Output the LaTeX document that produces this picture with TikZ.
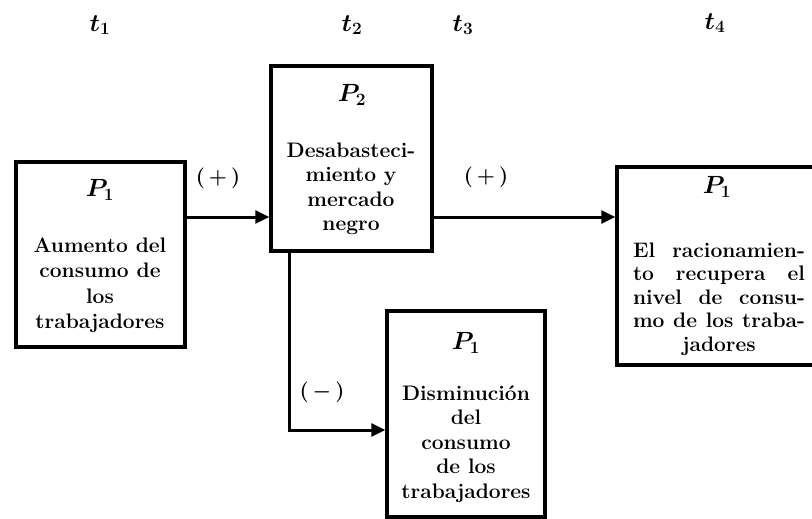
\documentclass[tikz,border=0pt]{standalone}
\usetikzlibrary{arrows.meta}
\begin{document}
\begin{tikzpicture}[x=1pt,y=-1pt,
  box/.style={draw,line width=3.4pt,minimum width=#1,inner sep=0pt},
  txt/.style={align=center,font=\fontsize{21}{24.5}\selectfont\bfseries,inner sep=0pt},
  plab/.style={font=\fontsize{23}{26}\selectfont\boldmath,inner sep=0pt},
  sgn/.style={font=\fontsize{22}{26}\selectfont\boldmath,inner sep=0pt},
  arr/.style={line width=3pt,-{Triangle[length=14pt,width=13pt]}}]
\useasboundingbox (0,0) rectangle (812,519);
% boxes
\node[box=169pt,minimum height=185pt] (b1) at (100.5,254.5) {};
\node[box=161pt,minimum height=185pt] (b2) at (351.5,158.5) {};
\node[box=158pt,minimum height=206pt] (b3) at (466,414) {};
\node[box=206pt,minimum height=198pt] (b4) at (720,266) {};
% time labels
\node[plab] (t1) at (100,25) {$t_1$};
\node[plab] (t2) at (352,25) {$t_2$};
\node[plab] (t3) at (463,25) {$t_3$};
\node[plab] (t4) at (715,23) {$t_4$};
% P labels
\node[plab] (p1) at (100,190) {$P_1$};
\node[plab] (p2) at (352,95) {$P_2$};
\node[plab] (p3) at (466,343) {$P_1$};
\node[plab] (p4) at (717,187) {$P_1$};
% texts
\node[txt,font=\fontsize{21}{25.5}\selectfont\bfseries] (x1) at (100,285) {Aumento del\\consumo de\\los\\trabajadores};
\node[txt] (x2) at (351,189) {Desabasteci-\\miento y\\mercado\\negro};
\node[txt] (x3) at (466,444) {Disminución\\del\\consumo\\de los\\trabajadores};
\node[txt,font=\fontsize{21}{23.5}\selectfont\bfseries] (x4) at (719,299) {\makebox[172pt][s]{El racionamien-}\\\makebox[172pt][s]{to recupera el}\\\makebox[172pt][s]{nivel de consu-}\\\makebox[172pt][s]{mo de los traba-}\\jadores};
% connectors
\draw[arr] (b1.east |- 0,217) -- (b2.west |- 0,217);
\draw[arr] (b2.east |- 0,217) -- (b4.west |- 0,217);
\draw[arr] ([xshift=20pt]b2.south west) |- ([yshift=-16pt]b3.west);
% signs
\node[sgn] (s1) at (218,178) {$(\,+\,)$};
\node[sgn] (s2) at (486,177) {$(\,+\,)$};
\node[sgn] (s3) at (322,392) {$(\,-\,)$};
\end{tikzpicture}
\end{document}
